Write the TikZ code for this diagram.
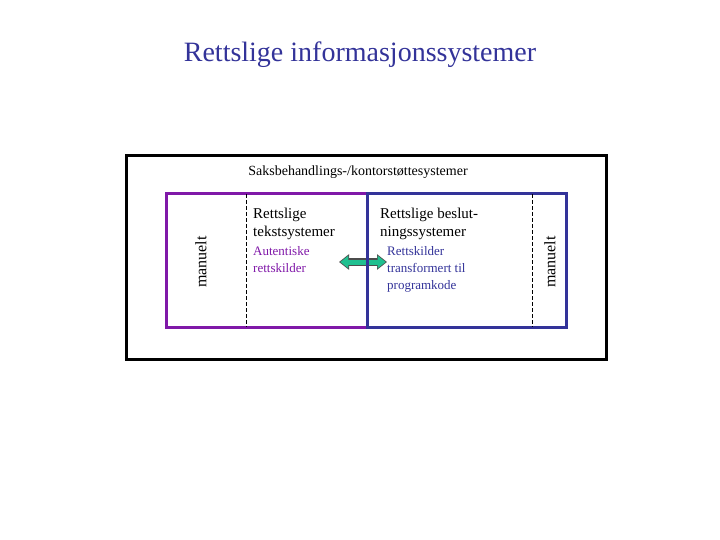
\documentclass[tikz,border=0pt]{standalone}
\usepackage{fontspec}
\setmainfont{Liberation Serif}
\usetikzlibrary{arrows.meta,positioning}
\definecolor{titleblue}{RGB}{51,51,153}
\definecolor{boxpurple}{RGB}{128,24,168}
\definecolor{boxblue}{RGB}{51,51,153}
\definecolor{linkgreen}{RGB}{32,192,144}

\begin{document}
\begin{tikzpicture}[
  x=1pt, y=-1pt,
  outerbox/.style={draw=black, line width=3pt},
  sysbox/.style={line width=3pt},
  divider/.style={dash pattern=on 4pt off 2pt, line width=0.8pt},
  maintext/.style={font=\fontsize{15}{18}\selectfont, align=left, anchor=north west, inner sep=0pt},
  subtext/.style={font=\fontsize{13}{17}\selectfont, align=left, anchor=north west, inner sep=0pt},
  sidelabel/.style={font=\fontsize{16}{18}\selectfont, rotate=90, inner sep=0pt},
]
\useasboundingbox (0,0) rectangle (720,540);

\node[font=\fontsize{28}{32}\selectfont, text=titleblue] (title) at (360,55) {Rettslige informasjonssystemer};

\draw[outerbox] (126,156) rectangle (606,359);
\node[font=\fontsize{14}{16}\selectfont] (kontor) at (358,172) {Saksbehandlings-/kontorstøttesystemer};

% link between the two systems
\coordinate (link-l) at (339,262);
\coordinate (link-r) at (387,262);
\draw[line width=7.5pt, color=black!70, {Triangle[length=10pt,width=15pt]}-{Triangle[length=10pt,width=15pt]}] (link-l) -- (link-r);
\draw[line width=5pt, color=linkgreen, {Triangle[length=8pt,width=12pt]}-{Triangle[length=8pt,width=12pt]}, shorten <=1.3pt, shorten >=1.3pt] (link-l) -- (link-r);

\draw[sysbox, draw=boxpurple] (166,194) rectangle (367,327);
\draw[sysbox, draw=boxblue] (367,194) rectangle (566,327);
\draw[divider] (246,194) -- (246,327);
\draw[divider] (532,194) -- (532,327);

\node[sidelabel] (man-l) at (201,262) {manuelt};
\node[sidelabel] (man-r) at (550,262) {manuelt};

\node[maintext] (tekst) at (253,208) {Rettslige\\tekstsystemer};
\node[subtext, text=boxpurple] (autentisk) at (253,246) {Autentiske\\rettskilder};
\node[maintext] (beslut) at (380,208) {Rettslige beslut-\\ningssystemer};
\node[subtext, text=boxblue] (program) at (387,246) {Rettskilder\\transformert til\\programkode};

\end{tikzpicture}
\end{document}
